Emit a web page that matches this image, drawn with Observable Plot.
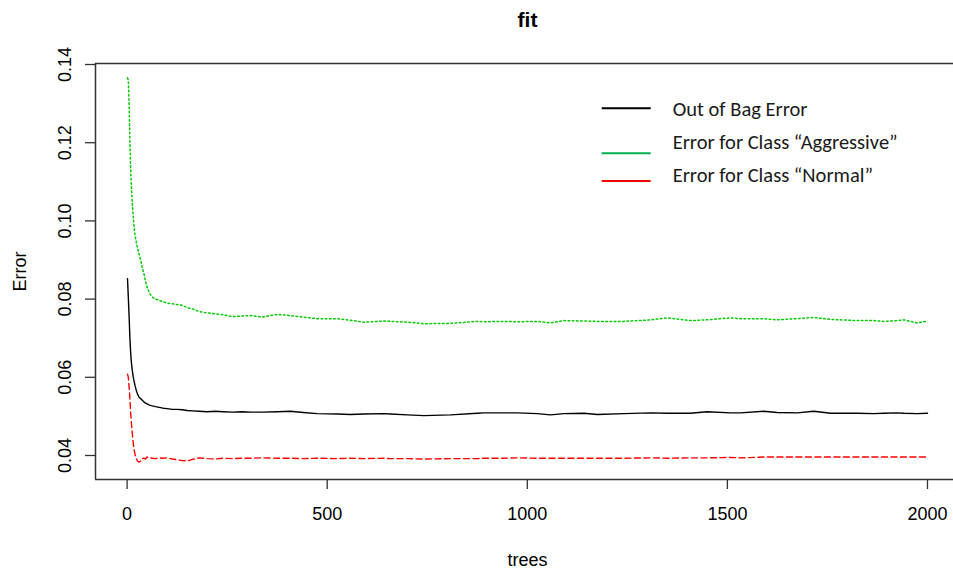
<!DOCTYPE html>
<html><head><meta charset="utf-8">
<script src="https://cdn.jsdelivr.net/npm/d3@7"></script>
<script src="https://cdn.jsdelivr.net/npm/@observablehq/plot@0.6"></script>
<style>
html,body{margin:0;padding:0;background:#fff;}
#wrap{position:relative;width:953px;height:573px;overflow:hidden;background:#fff;}
#legend{position:absolute;left:0;top:0;pointer-events:none;}
</style></head><body><div id="wrap"></div>
<script>
const trees = [1,3,5,7,9,11,13,15,17,20,23,26,30,34,38,42,46,50,56,63,71,80,90,100,113,125,138,150,163,180,200,221,240,263,288,309,338,375,408,440,475,525,558,592,642,658,700,742,808,875,891,941,975,1025,1058,1091,1141,1175,1241,1308,1350,1408,1449,1508,1533,1591,1624,1674,1716,1758,1824,1866,1891,1924,1941,1974,2000];

const oobError = [0.0852,0.0805,0.0755,0.0700,0.0660,0.0635,0.0617,0.0603,0.0592,0.0578,0.0566,0.0557,0.0549,0.0545,0.0541,0.0537,0.0534,0.0532,0.0529,0.0527,0.0525,0.0523,0.0521,0.0520,0.0518,0.0518,0.0517,0.0515,0.0514,0.0513,0.0512,0.0513,0.0512,0.0511,0.0512,0.0511,0.0511,0.0512,0.0513,0.0510,0.0507,0.0506,0.0505,0.0506,0.0507,0.0506,0.0504,0.0502,0.0504,0.0508,0.0509,0.0509,0.0509,0.0507,0.0504,0.0507,0.0508,0.0505,0.0507,0.0509,0.0508,0.0508,0.0512,0.0509,0.0509,0.0513,0.0510,0.0509,0.0513,0.0508,0.0508,0.0507,0.0508,0.0509,0.0508,0.0507,0.0508];

const aggressiveError = [0.1366,0.1360,0.1300,0.1200,0.1129,0.1080,0.1045,0.1015,0.0990,0.0963,0.0945,0.0930,0.0915,0.0899,0.0880,0.0865,0.0845,0.0830,0.0815,0.0805,0.0800,0.0797,0.0793,0.0790,0.0788,0.0786,0.0784,0.0778,0.0775,0.0768,0.0765,0.0762,0.0760,0.0755,0.0757,0.0758,0.0754,0.0761,0.0758,0.0754,0.0750,0.0750,0.0746,0.0741,0.0744,0.0743,0.0741,0.0737,0.0738,0.0743,0.0742,0.0743,0.0742,0.0743,0.0739,0.0745,0.0744,0.0743,0.0743,0.0747,0.0752,0.0745,0.0747,0.0752,0.0750,0.0750,0.0747,0.0750,0.0753,0.0748,0.0745,0.0745,0.0743,0.0745,0.0747,0.0739,0.0744];

const normalError = [0.0608,0.0600,0.0575,0.0545,0.0507,0.0480,0.0456,0.0435,0.0417,0.0402,0.0392,0.0386,0.0383,0.0386,0.0392,0.0393,0.0391,0.0396,0.0394,0.0393,0.0392,0.0394,0.0393,0.0394,0.0391,0.0389,0.0387,0.0386,0.0390,0.0394,0.0392,0.0391,0.0393,0.0392,0.0393,0.0393,0.0394,0.0393,0.0393,0.0392,0.0393,0.0392,0.0393,0.0392,0.0393,0.0392,0.0392,0.0391,0.0392,0.0392,0.0393,0.0393,0.0394,0.0393,0.0393,0.0393,0.0393,0.0393,0.0393,0.0394,0.0393,0.0394,0.0394,0.0395,0.0394,0.0396,0.0396,0.0396,0.0396,0.0396,0.0396,0.0396,0.0396,0.0396,0.0396,0.0396,0.0396];

const legendLabels = ["Out of Bag Error", "Error for Class \u201CAggressive\u201D", "Error for Class \u201CNormal\u201D"];
const lineColors = ["#000000", "#00CD00", "#FF0000"];
const legendColors = ["#000000", "#00B050", "#FF0000"];
const xTicks = [0, 500, 1000, 1500, 2000];
const yTicks = [0.04, 0.06, 0.08, 0.10, 0.12, 0.14];
const xDomain = [-79, 2065];
const yDomain = [0.03386, 0.14026];

const toRows = vals => trees.map((t, i) => ({tree: t, error: vals[i]}));
const oobRows = toRows(oobError);
const aggRows = toRows(aggressiveError);
const normRows = toRows(normalError);

const chart = Plot.plot({
  width: 953,
  height: 573,
  marginLeft: 95,
  marginTop: 63,
  marginBottom: 94,
  marginRight: 0,
  style: {fontFamily: "'Liberation Sans', Arial, sans-serif", fontSize: "18px", color: "#000", background: "#fff"},
  x: {domain: xDomain},
  y: {domain: yDomain},
  marks: [
    Plot.axisX(xTicks, {tickSize: 10, tickPadding: 17.7, label: null, tickFormat: d => String(d), stroke: "#333", strokeWidth: 1.3}),
    Plot.axisY(yTicks, {tickSize: 10, tickPadding: 15, tickRotate: -90, label: null, tickFormat: d => d.toFixed(2), stroke: "#333", strokeWidth: 1.3}),
    Plot.ruleX([xDomain[0]], {stroke: "#333", strokeWidth: 1.5}),
    Plot.ruleY(yDomain, {stroke: "#333", strokeWidth: 1.5}),
    Plot.line(normRows, {x: "tree", y: "error", stroke: lineColors[2], strokeWidth: 1.4, strokeDasharray: "6,3.5"}),
    Plot.line(aggRows, {x: "tree", y: "error", stroke: lineColors[1], strokeWidth: 1.5, strokeDasharray: "1.6,2.6"}),
    Plot.line(oobRows, {x: "tree", y: "error", stroke: lineColors[0], strokeWidth: 1.4}),
    Plot.text(["trees"], {text: d => d, frameAnchor: "bottom", dx: 3, dy: 86, lineAnchor: "bottom"}),
    Plot.text(["Error"], {text: d => d, frameAnchor: "left", dx: -70, rotate: -90, lineAnchor: "bottom", textAnchor: "middle"}),
    Plot.text(["fit"], {text: d => d, frameAnchor: "top", dx: 3, dy: -37, lineAnchor: "bottom", fontWeight: "bold", fontSize: 21})
  ]
});

const wrap = document.getElementById("wrap");
wrap.appendChild(chart);

// legend overlay (layout positions only)
const legendLineY = [108.3, 153.3, 181];
const legendTextY = [115.5, 148.8, 182];
const leg = d3.select(wrap).append("svg").attr("id", "legend").attr("width", 953).attr("height", 573);
legendLabels.forEach((lab, i) => {
  leg.append("line").attr("x1", 601.7).attr("x2", 650.7).attr("y1", legendLineY[i]).attr("y2", legendLineY[i])
    .attr("stroke", legendColors[i]).attr("stroke-width", 2);
  leg.append("text").attr("x", 672.7).attr("y", legendTextY[i])
    .attr("font-family", "Calibri, Carlito, Lato, sans-serif").attr("font-size", 20.5).attr("fill", "#1a1a1a")
    .text(lab);
});
</script></body></html>
